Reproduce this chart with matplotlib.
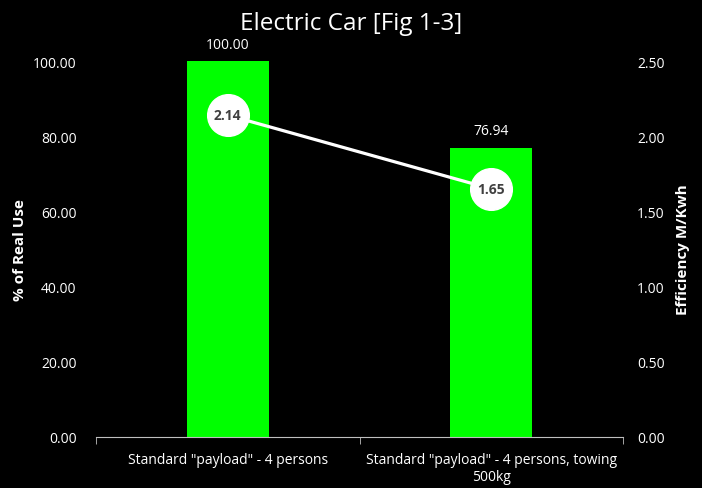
import matplotlib

matplotlib.use("Agg")
import matplotlib.pyplot as plt
import numpy as np

categories = ['Standard "payload" - 4 persons', 'Standard "payload" - 4 persons, towing\n500kg']
real_use = [100.00, 76.94]
efficiency = [2.14, 1.65]
left_ticks = [0, 20, 40, 60, 80, 100]
right_ticks = [0, 0.5, 1.0, 1.5, 2.0, 2.5]

plt.rcParams["font.family"] = ["Open Sans", "DejaVu Sans"]

fig = plt.figure(figsize=(7.02, 4.89), dpi=100, facecolor="black")
ax = fig.add_axes([0.1368, 0.1043, 0.7507, 0.7689], facecolor="black")
ax2 = ax.twinx()

x = np.arange(len(categories))
ax.bar(x, real_use, width=0.31, color="#00ff00", zorder=2)
for xi, v in zip(x, real_use):
    ax.text(xi, v + 2.5, f"{v:.2f}", ha="center", va="bottom", color="white", fontsize=10)

ax.set_xlim(-0.5, 1.5)
ax.set_ylim(0, 100)
ax.set_yticks(left_ticks)
ax.set_yticklabels([f"{t:.2f}" for t in left_ticks])
ax.set_xticks(x)
ax.set_xticklabels(categories, color="white", fontsize=10)
ax.tick_params(axis="x", length=0, pad=11)
ax.tick_params(axis="y", length=0, colors="white", labelsize=10, pad=14)
ax.set_xticks([-0.5, 0.5, 1.5], minor=True)
ax.tick_params(axis="x", which="minor", length=5, color="#bfbfbf", direction="out")
ax.set_ylabel("% of Real Use", color="white", fontsize=11, fontweight="bold", labelpad=4)
for s in ["top", "right", "left"]:
    ax.spines[s].set_visible(False)
ax.spines["bottom"].set_color("#bfbfbf")

ax2.plot(x, efficiency, color="white", lw=2.3, marker="o", markersize=30,
         markerfacecolor="white", markeredgecolor="white", zorder=3)
for xi, v in zip(x, efficiency):
    ax2.text(xi, v, f"{v:.2f}", ha="center", va="center", color="#404040",
             fontsize=10, fontweight="bold", zorder=4)
ax2.set_ylim(0, 2.5)
ax2.set_yticks(right_ticks)
ax2.set_yticklabels([f"{t:.2f}" for t in right_ticks])
ax2.tick_params(axis="y", length=0, colors="white", labelsize=10, pad=10)
ax2.set_ylabel("Efficiency M/Kwh", color="white", fontsize=11, fontweight="bold", labelpad=8)
for s in ["top", "right", "left", "bottom"]:
    ax2.spines[s].set_visible(False)

fig.suptitle("Electric Car [Fig 1-3]", color="white", fontsize=17.5, y=0.975)

fig.savefig("out.png", dpi=100, facecolor="black")
